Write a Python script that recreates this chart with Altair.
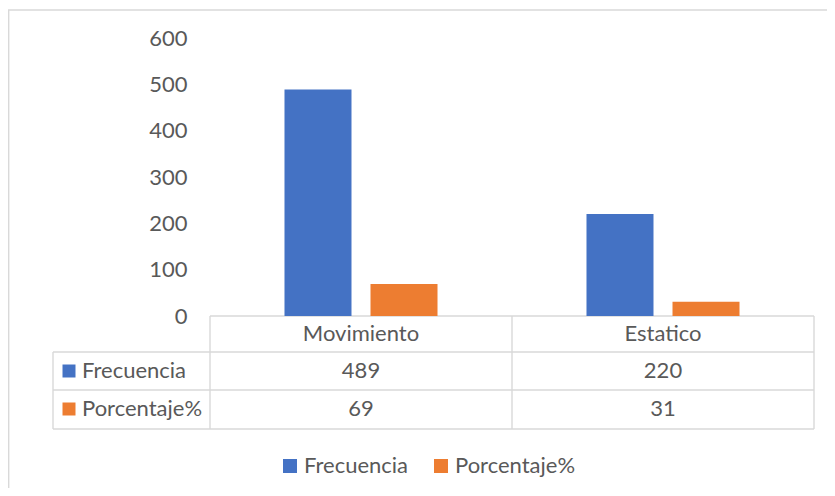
import altair as alt
import pandas as pd

categories = ["Movimiento", "Estatico"]
series = ["Frecuencia", "Porcentaje%"]
frecuencia = [489, 220]
porcentaje = [69, 31]
y_ticks = [0, 100, 200, 300, 400, 500, 600]
colors = ["#4472C4", "#ED7D31"]

rows = []
for i, c in enumerate(categories):
    rows.append({"categoria": c, "serie": series[0], "valor": frecuencia[i]})
    rows.append({"categoria": c, "serie": series[1], "valor": porcentaje[i]})
df = pd.DataFrame(rows)
cat_df = pd.DataFrame({"categoria": categories})
ser_df = pd.DataFrame({"serie": series})
one = pd.DataFrame({"a": [0]})

FONT = "Lato"
FS = 22
TXT = "#595959"
GRID = "#D9D9D9"

x_scale = alt.Scale(domain=categories, range=[202, 806], paddingInner=0, paddingOuter=0)
y_scale = alt.Scale(domain=[0, 600], range=[308, 30], nice=False)
color_scale = alt.Scale(domain=series, range=colors)
row_scale = alt.Scale(type="point", domain=series, range=[363, 401], padding=0)

legend = alt.Legend(
    orient="none", legendX=271, legendY=447, direction="horizontal",
    symbolType="square", symbolSize=196, symbolStrokeWidth=0,
    labelFont=FONT, labelFontSize=FS, labelColor=TXT, labelOffset=3,
    columnPadding=21, title=None, padding=0,
)

X = alt.X("categoria:N", scale=x_scale, axis=None)

bars = alt.Chart(df).mark_bar().encode(
    x=X,
    xOffset=alt.XOffset("serie:N", scale=alt.Scale(domain=series, paddingInner=0.221, paddingOuter=0.866)),
    y=alt.Y("valor:Q", scale=y_scale,
            axis=alt.Axis(values=y_ticks, orient="left", offset=-179, domain=False, ticks=False,
                          grid=False, labelPadding=0, labelFont=FONT, labelFontSize=FS,
                          labelColor=TXT, title=None)),
    color=alt.Color("serie:N", scale=color_scale, legend=legend),
)

def rule(x1, x2, y1, y2):
    return alt.Chart(one).mark_rule(color=GRID, strokeWidth=1.4).encode(
        x=alt.value(x1), x2=alt.value(x2), y=alt.value(y1), y2=alt.value(y2))

grid = [
    rule(202, 806, 308, 308),
    rule(45, 806, 344, 344),
    rule(45, 806, 382, 382),
    rule(45, 806, 421, 421),
    rule(45, 45, 344, 421),
    rule(202, 202, 308, 421),
    rule(504, 504, 308, 421),
    rule(806, 806, 308, 421),
]

border = alt.Chart(one).mark_rect(fillOpacity=0, stroke=GRID, strokeWidth=1.4).encode(
    x=alt.value(0.7), x2=alt.value(900), y=alt.value(2), y2=alt.value(600))

header = alt.Chart(cat_df).mark_text(font=FONT, fontSize=FS, color=TXT, baseline="middle").encode(
    x=X, y=alt.value(326), text="categoria:N")

values = alt.Chart(df).mark_text(font=FONT, fontSize=FS, color=TXT, baseline="middle").encode(
    x=X, y=alt.Y("serie:N", scale=row_scale, axis=None), text="valor:Q")

row_labels = alt.Chart(ser_df).mark_text(font=FONT, fontSize=FS, color=TXT, align="left",
                                         baseline="middle").encode(
    x=alt.value(74), y=alt.Y("serie:N", scale=row_scale, axis=None), text="serie:N")

row_keys = alt.Chart(ser_df).mark_point(shape="square", filled=True, size=169, opacity=1).encode(
    x=alt.value(61), y=alt.Y("serie:N", scale=row_scale, axis=None),
    color=alt.Color("serie:N", scale=color_scale, legend=legend))

chart = alt.layer(border, *grid, bars, header, values, row_labels, row_keys).resolve_scale(
    y="independent"
).properties(
    width=819, height=480, autosize=alt.AutoSizeParams(type="none"), padding=0,
    background="white",
).configure_view(stroke=None)

chart.save("out.html", embed_options={"renderer": "svg", "actions": False})
